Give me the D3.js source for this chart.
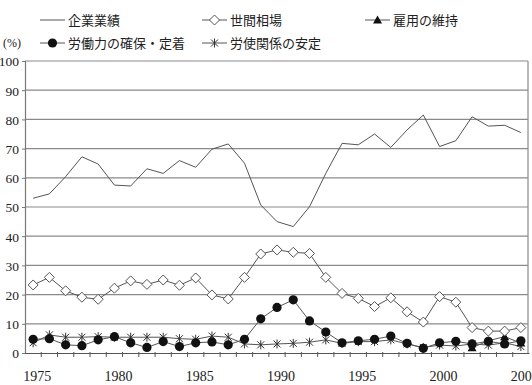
<!DOCTYPE html>
<html>
<head>
<meta charset="utf-8">
<script src="https://cdn.jsdelivr.net/npm/d3@7"></script>
<style>
  body { margin: 0; background: #fff; }
  svg { display: block; font-family: "Liberation Serif", "DejaVu Serif", "Noto Sans CJK JP", serif; }
  .num { font-family: "Liberation Serif", "DejaVu Serif", serif; }
  .jp { font-family: "Noto Sans CJK JP", sans-serif; }
</style>
</head>
<body>
<div id="chart"></div>
<script>
const years = d3.range(1975, 2006);
const labelYears = [1975, 1980, 1985, 1990, 1995, 2000, 2005];
const yTicks = [0, 10, 20, 30, 40, 50, 60, 70, 80, 90, 100];

// 企業業績
const kigyo = [53.0, 54.5, 60.4, 67.2, 64.7, 57.5, 57.2, 63.1, 61.5, 65.9, 63.6, 69.8, 71.6, 65.0, 50.7,
  45.0, 43.3, 50.1, 61.5, 71.8, 71.3, 75.0, 70.4, 76.4, 81.5, 70.7, 72.7, 80.9, 77.7, 78.0, 75.5];
// 世間相場
const seken = [23.3, 25.9, 21.3, 19.1, 18.4, 22.2, 24.7, 23.5, 25.0, 23.2, 25.7, 19.9, 18.5, 25.9, 33.9,
  35.3, 34.5, 34.1, 25.9, 20.4, 18.7, 15.9, 18.9, 14.1, 10.6, 19.3, 17.4, 8.7, 7.5, 7.5, 8.7];
// 雇用の維持 (2002年以降)
const koyo = [null, null, null, null, null, null, null, null, null, null, null, null, null, null, null,
  null, null, null, null, null, null, null, null, null, null, null, null, 1.8, 4.2, 5.6, 3.4];
// 労働力の確保・定着
const rodoryoku = [4.7, 4.9, 2.8, 2.5, 4.5, 5.6, 3.5, 1.9, 3.9, 2.2, 3.5, 3.8, 2.8, 4.7, 11.7,
  15.6, 18.2, 11.0, 7.2, 3.5, 4.2, 4.7, 5.8, 3.3, 1.6, 3.5, 4.0, 3.1, 4.0, 3.1, 4.2];
// 労使関係の安定
const roshi = [3.5, 6.2, 5.4, 5.4, 5.6, 5.4, 5.4, 5.4, 5.4, 4.9, 4.7, 5.8, 5.4, 3.1, 2.8,
  3.1, 3.3, 3.7, 4.5, 3.3, 3.9, 3.9, 4.5, 3.1, 1.9, 2.7, 2.4, 3.1, 2.7, 3.5, 2.2];

const series = [
  { name: '企業業績', values: kigyo, marker: 'none' },
  { name: '世間相場', values: seken, marker: 'diamond' },
  { name: '雇用の維持', values: koyo, marker: 'triangle' },
  { name: '労働力の確保・定着', values: rodoryoku, marker: 'circle' },
  { name: '労使関係の安定', values: roshi, marker: 'star' }
];

const width = 532, height = 385;
const svg = d3.select('#chart').append('svg')
  .attr('width', width)
  .attr('height', height);

const x = d3.scaleBand().domain(years).range([25, 529]).padding(0);
const y = d3.scaleLinear().domain([0, 100]).range([353, 61]);
const cx = d => x(d) + x.bandwidth() / 2;

// grid
svg.append('g')
  .selectAll('line')
  .data(yTicks.filter(d => d > 0))
  .enter()
  .append('line')
  .attr('x1', 25).attr('x2', 528)
  .attr('y1', d => y(d)).attr('y2', d => y(d))
  .attr('stroke', '#8a8a8a')
  .attr('stroke-width', 1.2);

// right frame
svg.append('line')
  .attr('x1', 528).attr('x2', 528)
  .attr('y1', y(100)).attr('y2', y(0))
  .attr('stroke', '#8a8a8a').attr('stroke-width', 1.2);

// y axis
const yAxis = svg.append('g')
  .attr('transform', 'translate(25,0)')
  .call(d3.axisLeft(y).tickValues(yTicks).tickSize(3).tickPadding(3));
yAxis.attr('font-family', null);
yAxis.select('.domain').attr('stroke', '#777').attr('stroke-width', 1.2);
yAxis.selectAll('.tick line').attr('stroke', '#777');
yAxis.selectAll('text')
  .attr('class', 'num')
  .attr('dy', '0.36em')
  .style('font-size', '13.5px')
  .attr('fill', '#222');

// x axis
const xAxis = svg.append('g')
  .attr('transform', 'translate(0,' + y(0) + ')')
  .call(d3.axisBottom(x).tickValues(labelYears).tickSize(0).tickPadding(18));
xAxis.attr('font-family', null);
xAxis.select('.domain').attr('stroke', '#555').attr('stroke-width', 1.2);
xAxis.selectAll('text')
  .attr('class', 'num')
  .style('font-size', '14px')
  .attr('fill', '#222')
  .attr('dx', 4);

// category boundary ticks
svg.append('g')
  .selectAll('line')
  .data(years.slice(1))
  .enter()
  .append('line')
  .attr('x1', d => x(d)).attr('x2', d => x(d))
  .attr('y1', y(0) - 1).attr('y2', y(0) + 4)
  .attr('stroke', '#555');

// markers
function drawMarker(g, type, px, py) {
  if (type === 'diamond') {
    g.append('path')
      .attr('d', `M${px},${py - 5}L${px + 5},${py}L${px},${py + 5}L${px - 5},${py}Z`)
      .attr('fill', '#fff').attr('stroke', '#555').attr('stroke-width', 1);
  } else if (type === 'circle') {
    g.append('circle').attr('cx', px).attr('cy', py).attr('r', 4.6).attr('fill', '#111');
  } else if (type === 'triangle') {
    g.append('path')
      .attr('d', `M${px},${py - 4.5}L${px + 4.5},${py + 3.5}L${px - 4.5},${py + 3.5}Z`)
      .attr('fill', '#111');
  } else if (type === 'star') {
    g.append('path')
      .attr('d', `M${px - 3.5},${py - 3.5}L${px + 3.5},${py + 3.5}M${px + 3.5},${py - 3.5}L${px - 3.5},${py + 3.5}M${px},${py - 4.5}L${px},${py + 4.5}`)
      .attr('stroke', '#333').attr('stroke-width', 1).attr('fill', 'none');
  }
}

const line = d3.line()
  .defined(d => d.v != null)
  .x(d => cx(d.year))
  .y(d => y(d.v));

// draw bottom-most series first so the main lines stay on top
const order = [4, 2, 3, 1, 0];
order.forEach(i => {
  const s = series[i];
  const pts = years.map((yr, j) => ({ year: yr, v: s.values[j] }));
  const g = svg.append('g');
  g.append('path')
    .datum(pts)
    .attr('d', line)
    .attr('fill', 'none')
    .attr('stroke', '#555')
    .attr('stroke-width', 1);
  pts.filter(d => d.v != null).forEach(d => drawMarker(g, s.marker, cx(d.year), y(d.v)));
});

// legend
const legendPos = [
  { x: 40, y: 20 }, { x: 202, y: 20 }, { x: 365, y: 20 },
  { x: 40, y: 43 }, { x: 202, y: 43 }
];
series.forEach((s, i) => {
  const p = legendPos[i];
  const g = svg.append('g');
  g.append('line')
    .attr('x1', p.x).attr('x2', p.x + 25)
    .attr('y1', p.y).attr('y2', p.y)
    .attr('stroke', '#555').attr('stroke-width', 1);
  drawMarker(g, s.marker, p.x + 12.5, p.y);
  g.append('text')
    .attr('class', 'jp')
    .attr('x', p.x + 28)
    .attr('y', p.y + 4.5)
    .style('font-size', '13px')
    .attr('fill', '#222')
    .text(s.name);
});

svg.append('text')
  .attr('class', 'num')
  .attr('x', 3).attr('y', 47)
  .style('font-size', '12px')
  .attr('fill', '#222')
  .text('(%)');
</script>
</body>
</html>
